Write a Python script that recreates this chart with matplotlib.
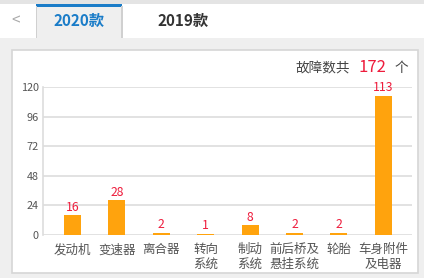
import matplotlib.pyplot as plt
from matplotlib.patches import Rectangle

plt.rcParams['font.family'] = ['Noto Sans CJK SC', 'DejaVu Sans']

categories = ['发动机', '变速器', '离合器', '转向\n系统', '制动\n系统', '前后桥及\n悬挂系统', '轮胎', '车身附件\n及电器']
values = [16, 28, 2, 1, 8, 2, 2, 113]
yticks = [0, 24, 48, 72, 96, 120]
total = 172
tabs = ['2020款', '2019款']

W, H = 424, 278
fig = plt.figure(figsize=(W / 100, H / 100), dpi=100)
fig.patch.set_facecolor('#efefef')


def px(x, y):
    # pixel coords from top-left -> figure fraction
    return x / W, 1 - y / H


def box(x0, y0, x1, y1, **kw):
    fig.patches.append(Rectangle(px(x0, y1), (x1 - x0) / W, (y1 - y0) / H,
                                 transform=fig.transFigure, zorder=-5, **kw))


# tab bar
box(0, 0, 424, 4, facecolor='#e4e4e4', edgecolor='none')
box(0, 4, 424, 38, facecolor='white', edgecolor='none')
box(36, 6, 122, 38, facecolor='#efefef', edgecolor='none')
box(36, 4, 122, 6.5, facecolor='#1a7cc8', edgecolor='none')
box(35.5, 6, 36.5, 38, facecolor='#d0d0d0', edgecolor='none')
box(121.5, 6, 122.5, 38, facecolor='#d0d0d0', edgecolor='none')
fig.text(*px(16, 21), '<', color='#aaaaaa', fontsize=11, ha='center', va='center')
fig.text(*px(79, 21), tabs[0], color='#1a7cc8', fontsize=11, fontweight='bold',
         ha='center', va='center')
fig.text(*px(183.5, 21), tabs[1], color='#333333', fontsize=11, fontweight='bold',
         ha='center', va='center')

# panel
box(11.5, 49.5, 417.5, 272.5, facecolor='white', edgecolor='#d6d6d6', linewidth=1.2)

fig.text(*px(350, 68), '故障数共', color='#444444', fontsize=9.8, ha='right', va='center')
fig.text(*px(372.5, 67), str(total), color='#ee1c3c', fontsize=12, ha='center', va='center')
fig.text(*px(401.5, 68), '个', color='#444444', fontsize=9.8, ha='center', va='center')

# chart axes
l, b = px(43, 235)
r, t = px(412, 87)
ax = fig.add_axes([l, b, r - l, t - b])
ax.set_facecolor('none')
x = list(range(len(categories)))
bars = ax.bar(x, values, width=0.385, color='#ffa30d', zorder=3)
ax.set_xlim(-0.664, 7.646)
ax.set_ylim(0, 120)
ax.set_yticks(yticks)
ax.set_yticklabels([str(v) for v in yticks], fontsize=7.8, color='#555555')
ax.yaxis.grid(True, color='#dddddd', linewidth=1.2, zorder=0)
ax.set_xticks(x)
ax.set_xticklabels(categories, fontsize=9, color='#555555', linespacing=1.15)
ax.tick_params(axis='both', length=0, pad=3)
ax.tick_params(axis='x', pad=6)
for s in ['top', 'right', 'bottom']:
    ax.spines[s].set_visible(False)
ax.spines['left'].set_color('#dddddd')
ax.spines['left'].set_linewidth(1.2)

for rect, v in zip(bars, values):
    ax.annotate(str(v), (rect.get_x() + rect.get_width() / 2, v),
                xytext=(0, 1), textcoords='offset points',
                ha='center', va='bottom', fontsize=8.8, color='#ee1c3c')

fig.savefig('out.png', dpi=100, facecolor=fig.get_facecolor())
